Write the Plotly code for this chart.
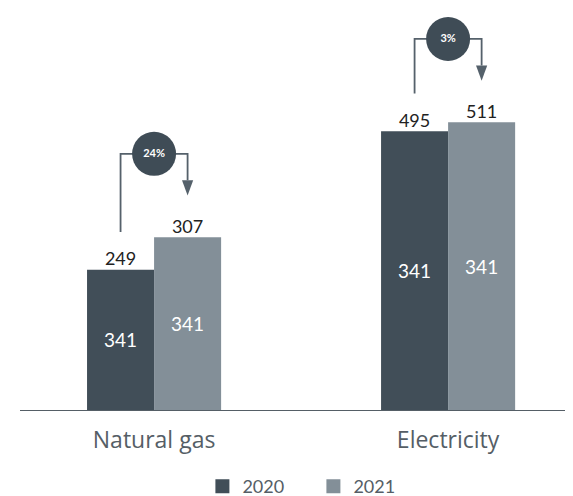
import plotly.graph_objects as go

categories = ["Natural gas", "Electricity"]
years = ["2020", "2021"]
values_2020 = [249, 495]
values_2021 = [307, 511]
inside_2020 = ["341", "341"]
inside_2021 = ["341", "341"]
change_labels = ["24%", "3%"]

dark = "#414e58"
light = "#838f98"
line_col = "#55616b"
font_family = "Lato, 'Open Sans', sans-serif"

xpos = list(range(len(categories)))
bw = 0.228

fig = go.Figure()
fig.add_trace(go.Bar(
    x=xpos, y=values_2020, name=years[0], width=bw, offset=-bw,
    marker=dict(color=dark, line=dict(width=0)),
    text=inside_2020, textposition="inside", insidetextanchor="middle",
    textfont=dict(color="white", size=19, family=font_family),
    showlegend=False, hoverinfo="skip"))
fig.add_trace(go.Bar(
    x=xpos, y=values_2021, name=years[1], width=bw, offset=0,
    marker=dict(color=light, line=dict(width=0)),
    text=inside_2021, textposition="inside", insidetextanchor="middle",
    textfont=dict(color="white", size=19, family=font_family),
    showlegend=False, hoverinfo="skip"))

# legend entries
for name, col in zip(years, [dark, light]):
    fig.add_trace(go.Scatter(
        x=[None], y=[None], mode="markers", name=name,
        marker=dict(symbol="square", size=14, color=col, line=dict(width=0))))

# value labels on top
fig.add_trace(go.Scatter(
    x=[x - bw / 2 for x in xpos] + [x + bw / 2 for x in xpos],
    y=values_2020 + values_2021,
    mode="text",
    text=[str(v) for v in values_2020 + values_2021],
    textposition="top center",
    textfont=dict(color="#222222", size=18, family=font_family),
    showlegend=False, hoverinfo="skip"))

# change arrows
tri_w = 0.019
tri_h = 27
for i, x in enumerate(xpos):
    lx = x - bw / 2
    rx = x + bw / 2
    bottom = values_2020[i] + 67
    top = values_2021[i] + 148
    tip = values_2021[i] + 74
    fig.add_trace(go.Scatter(
        x=[lx, lx, rx, rx], y=[bottom, top, top, tip + tri_h],
        mode="lines", line=dict(color=line_col, width=1.8),
        showlegend=False, hoverinfo="skip"))
    fig.add_trace(go.Scatter(
        x=[rx - tri_w, rx + tri_w, rx, rx - tri_w],
        y=[tip + tri_h, tip + tri_h, tip, tip + tri_h],
        mode="lines", fill="toself", fillcolor=line_col,
        line=dict(color=line_col, width=0),
        showlegend=False, hoverinfo="skip"))
    fig.add_trace(go.Scatter(
        x=[x], y=[top], mode="markers+text",
        marker=dict(size=44, color="#3f4c56", line=dict(width=0)),
        text=[change_labels[i]], textposition="middle center",
        textfont=dict(color="white", size=11, family=font_family, weight="bold"),
        showlegend=False, hoverinfo="skip"))

fig.update_layout(
    width=573, height=496,
    margin=dict(l=12, r=0, t=0, b=94, autoexpand=False),
    paper_bgcolor="white", plot_bgcolor="white",
    showlegend=True,
    legend=dict(orientation="h", x=0.523, xanchor="center",
                yref="container", y=0.035, yanchor="middle",
                font=dict(size=18, color="#555e66", family=font_family),
                entrywidth=66, itemsizing="trace"),
    xaxis=dict(range=[-0.456, 1.452], tickvals=xpos, ticktext=categories,
               showgrid=False, zeroline=False, showline=True,
               linecolor="#555e66", linewidth=1, ticks="",
               ticklabelstandoff=9,
               tickfont=dict(size=23, color="#555e66", family="'Open Sans', sans-serif")),
    yaxis=dict(range=[0, 714], visible=False, showgrid=False, zeroline=False),
    font=dict(family=font_family),
)

fig.write_html("out.html")
